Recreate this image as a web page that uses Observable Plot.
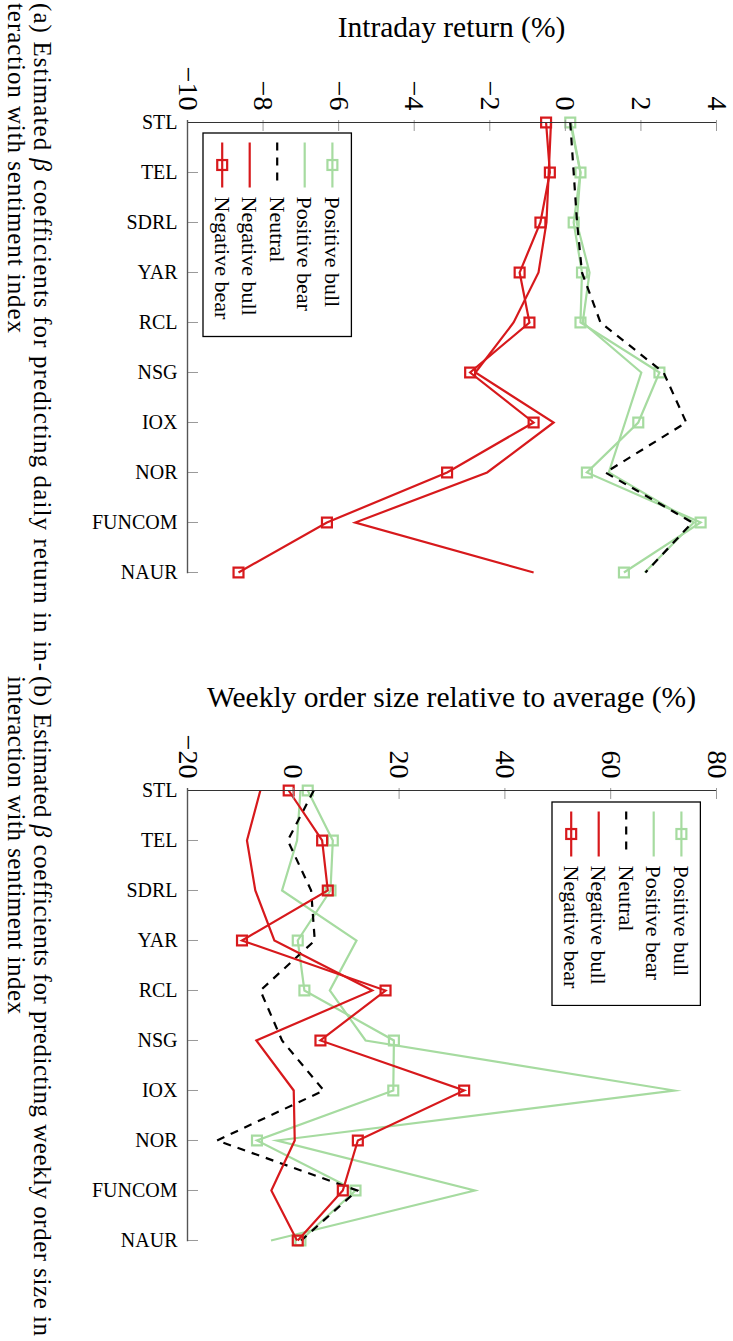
<!DOCTYPE html>
<html><head><meta charset="utf-8">
<script src="https://cdn.jsdelivr.net/npm/d3@7"></script>
<script src="https://cdn.jsdelivr.net/npm/@observablehq/plot@0.6"></script>
<style>
html,body{margin:0;padding:0;background:#fff;}
body{width:733px;height:1341px;position:relative;overflow:hidden;font-family:"Liberation Serif",serif;color:#000;}
.title{position:absolute;left:187px;width:529px;text-align:center;font-family:"Liberation Serif",serif;font-size:29.5px;line-height:30px;white-space:nowrap;}
.plot{position:absolute;left:0;}
.legend{position:absolute;}
</style></head><body>
<div id="titleA" class="title" style="top:12px">Intraday return (%)</div>
<div id="titleB" class="title" style="top:682px">Weekly order size relative to average (%)</div>
<div id="plotA" class="plot" style="top:0px"></div>
<div id="plotB" class="plot" style="top:660px"></div>
<script>
// ---- data ----
const categories = ["STL","TEL","SDRL","YAR","RCL","NSG","IOX","NOR","FUNCOM","NAUR"];
const seriesNames = ["Positive bull","Positive bear","Neutral","Negative bull","Negative bear"];

// Panel (a): intraday return (%)
const posBullA = [0.13, 0.40, 0.22, 0.44, 0.40, 2.49, 1.93, 0.57, 3.58, 1.55];
const posBearA = [0.15, 0.40, 0.30, 0.64, 0.46, 2.01, 1.58, 1.15, 3.40, 2.10];
const neutralA = [0.13, 0.22, 0.31, 0.44, 0.93, 2.60, 3.20, 1.06, 3.36, 2.12];
const negBullA = [-0.38, -0.44, -0.50, -0.71, -1.37, -2.38, -0.31, -2.07, -5.56, -0.84];
const negBearA = [-0.51, -0.41, -0.66, -1.21, -0.95, -2.52, -0.84, -3.13, -6.31, -8.65];

// Panel (b): weekly order size relative to average (%)
const posBullB = [2.73, 7.47, 7.03, 0.84, 2.10, 19.02, 18.9, -6.87, 11.76, 1.35];
const posBearB = [1.35, 0.71, -2.13, 11.95, 6.9, 13.66, 72.0, -3.07, 34.3, -4.21];
const neutralB = [3.87, -1.05, 3.37, 4.06, -6.23, -2.13, 5.76, -14.43, 12.08, 1.5];
const negBullB = [-6.23, -8.76, -7.18, -3.58, 14.92, -6.99, 0.08, 0.27, -4.15, 0.71];
const negBearB = [-0.87, 5.45, 6.52, -9.7, 17.44, 5.13, 32.3, 12.2, 9.36, 0.84];

const ticksA = [-10,-8,-6,-4,-2,0,2,4];
const tickLabelsA = ["−10","−8","−6","−4","−2","0","2","4"];
const ticksB = [-20,0,20,40,60,80];
const tickLabelsB = ["−20","0","20","40","60","80"];

const captionA = ["(a) Estimated |β| coefficients for predicting daily return in in-", "teraction with sentiment index"];
const captionB = ["(b) Estimated |β| coefficients for predicting weekly order size in", "interaction with sentiment index"];

// ---- styles ----
const RED = "#d7191c", GREEN = "#a6dba0";
const styleOf = {
  "Positive bull": {stroke: GREEN, dash: null, marker: true},
  "Positive bear": {stroke: GREEN, dash: null, marker: false},
  "Neutral":       {stroke: "#000", dash: "8,7", marker: false},
  "Negative bull": {stroke: RED, dash: null, marker: false},
  "Negative bear": {stroke: RED, dash: null, marker: true}
};
const FONT = "Liberation Serif";
const LW = 2.2, R = 5.6;

function buildRows(arrs){
  const rows = [];
  seriesNames.forEach((s, k) => arrs[k].forEach((v, i) => rows.push({series: s, cat: categories[i], value: v})));
  return rows;
}

function makeChart(rows, domain, ticks, labels, mTop){
  const width = 733, mLeft = 187, mRight = 17, mBottom = 10;
  const frameH = 453.3;
  const height = mTop + frameH + mBottom;
  const frameW = width - mLeft - mRight;
  const marks = [];
  for (const s of seriesNames){
    const st = styleOf[s];
    const d = rows.filter(r => r.series === s);
    marks.push(Plot.line(d, {x: "value", y: "cat", stroke: st.stroke, strokeWidth: LW,
      strokeDasharray: st.dash, strokeLinejoin: "miter", strokeMiterlimit: 10, strokeLinecap: "butt"}));
    if (st.marker) marks.push(Plot.dot(d, {x: "value", y: "cat", symbol: "square", r: R,
      stroke: st.stroke, strokeWidth: LW, fill: "none"}));
  }
  marks.push(Plot.tickX(ticks, {x: d => d, stroke: "#999", strokeWidth: 1, insetBottom: frameH - 11}));
  marks.push(Plot.tickY(categories, {y: d => d, stroke: "#999", strokeWidth: 1, insetRight: frameW - 11}));
  marks.push(Plot.ruleY([categories[0]], {stroke: "#333", strokeWidth: 1.2}));
  marks.push(Plot.ruleX([domain[0]], {stroke: "#555", strokeWidth: 1.4}));
  marks.push(Plot.text(ticks, {x: d => d, text: (d, i) => labels[i], frameAnchor: "top", dy: -10,
    rotate: 90, textAnchor: "end", lineAnchor: "middle", fontSize: 28, fontFamily: FONT, fill: "#000"}));
  marks.push(Plot.text(categories, {y: d => d, text: d => d, frameAnchor: "left", dx: -10,
    textAnchor: "end", lineAnchor: "middle", fontSize: 20, fontFamily: FONT, fill: "#000"}));
  return Plot.plot({
    width, height, marginLeft: mLeft, marginRight: mRight, marginTop: mTop, marginBottom: mBottom,
    x: {domain, axis: null},
    y: {type: "point", domain: categories, padding: 0, axis: null},
    style: {fontFamily: FONT, background: "transparent", overflow: "visible"},
    marks
  });
}

const rowsA = buildRows([posBullA, posBearA, neutralA, negBullA, negBearA]);
const rowsB = buildRows([posBullB, posBearB, neutralB, negBullB, negBearB]);
document.getElementById("plotA").append(makeChart(rowsA, [-10, 4], ticksA, tickLabelsA, 120));
document.getElementById("plotB").append(makeChart(rowsB, [-20, 80], ticksB, tickLabelsB, 128));

// ---- legends ----
function makeLegend(left, top){
  const W = 148.4, H = 203.5;
  const svg = d3.create("svg").attr("width", W + 2).attr("height", H + 2)
    .attr("class", "legend").style("left", (left - 1) + "px").style("top", (top - 1) + "px");
  const g = svg.append("g").attr("transform", "translate(1,1)");
  g.append("rect").attr("width", W).attr("height", H).attr("fill", "#fff").attr("stroke", "#000").attr("stroke-width", 1.3);
  const cx = [129.4, 101.7, 74.2, 46.7, 19.2];
  seriesNames.forEach((s, k) => {
    const st = styleOf[s];
    g.append("line").attr("x1", cx[k]).attr("x2", cx[k]).attr("y1", 9.5).attr("y2", 54.5)
      .attr("stroke", st.stroke).attr("stroke-width", LW).attr("stroke-dasharray", st.dash);
    if (st.marker){
      const side = R * Math.sqrt(Math.PI);
      g.append("rect").attr("x", cx[k] - side/2).attr("y", 32 - side/2).attr("width", side).attr("height", side)
        .attr("fill", "none").attr("stroke", st.stroke).attr("stroke-width", LW);
    }
    g.append("text").attr("transform", `translate(${cx[k]},63.5) rotate(90)`)
      .attr("dominant-baseline", "central").attr("font-family", FONT).attr("font-size", 22).text(s);
  });
  document.body.append(svg.node());
}
makeLegend(203.3, 133.3);
makeLegend(551.7, 801.7);

// ---- captions (rotated, read top to bottom) ----
const cap = d3.create("svg").attr("width", 62).attr("height", 1341)
  .style("position", "absolute").style("left", "0px").style("top", "0px");
function capLine(str, bx, top, len){
  const t = cap.append("text").attr("transform", `translate(${bx},${top}) rotate(90)`)
    .attr("font-family", FONT).attr("font-size", 25).attr("fill", "#000")
    .attr("textLength", len).attr("lengthAdjust", "spacing");
  str.split("|").forEach((part, i) => {
    const ts = t.append("tspan").text(part);
    if (i % 2 === 1) ts.attr("font-style", "italic");
  });
}
capLine(captionA[0], 34, 3, 668);
capLine(captionA[1], 8, 3, 330);
capLine(captionB[0], 34, 676, 660);
capLine(captionB[1], 8, 676, 338);
document.body.append(cap.node());
</script>
</body></html>
